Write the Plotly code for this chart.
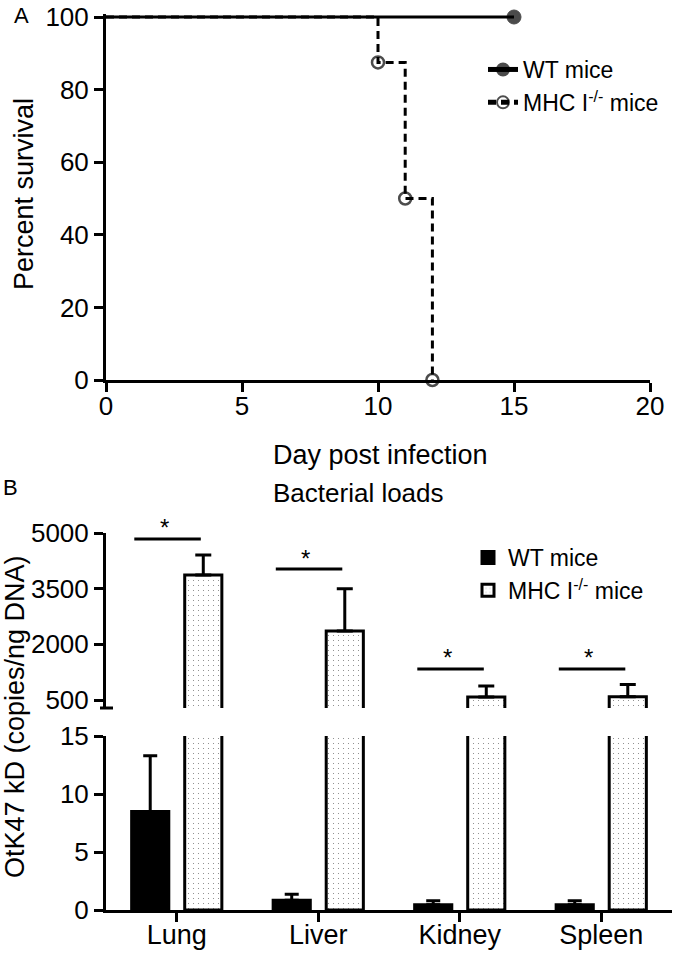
import plotly.graph_objects as go

# ---------------- data ----------------
# Panel A: survival (Kaplan-Meier)
wt_days = [0, 15]
wt_survival = [100, 100]
mhc_days = [0, 10, 11, 12]
mhc_survival = [100, 87.5, 50, 0]
surv_xticks = [0, 5, 10, 15, 20]
surv_yticks = [0, 20, 40, 60, 80, 100]

# Panel B: bacterial loads
organs = ["Lung", "Liver", "Kidney", "Spleen"]
wt_load = [8.5, 0.85, 0.45, 0.45]
wt_err = [4.8, 0.5, 0.35, 0.35]
mhc_load = [3870, 2360, 580, 590]
mhc_err = [540, 1140, 300, 330]
sig_y = [4840, 4030, 1340, 1340]
upper_ticks = [500, 2000, 3500, 5000]
lower_ticks = [0, 5, 10, 15]

W, H = 675, 953
FONT = "Liberation Sans, Arial, sans-serif"


def px(x):
    return x / W


def py(y):
    return 1 - y / H


fig = go.Figure()

# ---- Panel A ----
fig.add_trace(go.Scatter(
    x=mhc_days, y=mhc_survival, mode="lines+markers", line_shape="hv",
    name="MHC I<sup>-/-</sup> mice",
    line=dict(color="black", width=3, dash="8px,5px"),
    marker=dict(symbol="circle-open", size=[0, 12, 12, 12], color="black",
                line=dict(color="black", width=2.5)),
    xaxis="x", yaxis="y", legend="legend", cliponaxis=False, legendrank=2))
fig.add_trace(go.Scatter(
    x=wt_days, y=wt_survival, mode="lines+markers",
    name="WT mice",
    line=dict(color="black", width=3),
    marker=dict(symbol="circle", size=[0, 14], color="black",
                line=dict(color="black", width=1)),
    xaxis="x", yaxis="y", legend="legend", cliponaxis=False, legendrank=1))

# ---- Panel B ----
pattern = dict(shape=".", fgcolor="black", bgcolor="white", size=5, solidity=0.04)
fig.add_trace(go.Bar(
    x=organs, y=wt_load, name="WT mice", offsetgroup="wt",
    marker=dict(color="black", line=dict(color="black", width=3)),
    error_y=dict(type="data", array=wt_err, arrayminus=[0] * 4, symmetric=False,
                 color="black", thickness=3, width=7),
    xaxis="x2", yaxis="y3", legend="legend2", legendrank=1))
fig.add_trace(go.Bar(
    x=organs, y=mhc_load, name="MHC I<sup>-/-</sup> mice", offsetgroup="mhc",
    marker=dict(color="white", pattern=pattern, line=dict(color="black", width=3)),
    xaxis="x2", yaxis="y3", legend="legend2", legendrank=2))
fig.add_trace(go.Bar(
    x=organs, y=[0] * 4, name="WT mice", offsetgroup="wt", showlegend=False,
    marker=dict(color="black"), xaxis="x2", yaxis="y2"))
fig.add_trace(go.Bar(
    x=organs, y=mhc_load, name="MHC I<sup>-/-</sup> mice", offsetgroup="mhc",
    showlegend=False,
    marker=dict(color="white", pattern=pattern, line=dict(color="black", width=3)),
    error_y=dict(type="data", array=mhc_err, arrayminus=[0] * 4, symmetric=False,
                 color="black", thickness=3, width=8),
    xaxis="x2", yaxis="y2"))

axis_common = dict(showline=True, linecolor="black", linewidth=3, ticks="outside",
                   ticklen=9, tickwidth=3, tickcolor="black", showgrid=False,
                   zeroline=False, automargin=False,
                   tickfont=dict(family=FONT, size=26, color="black"))

shapes = []
annotations = []

# significance bars
for i, yv in enumerate(sig_y):
    shapes.append(dict(type="line", xref="x2", yref="y2", x0=i - 0.30, x1=i + 0.17,
                       y0=yv, y1=yv, line=dict(color="black", width=3)))
    annotations.append(dict(xref="x2", yref="y2", x=i - 0.09, y=yv, text="*",
                            showarrow=False, yanchor="middle", yshift=11,
                            font=dict(family=FONT, size=24, color="black")))

# axis break mark on upper segment
shapes.append(dict(type="line", xref="paper", yref="paper", x0=px(100), x1=px(113),
                   y0=py(708), y1=py(708), line=dict(color="black", width=3)))


def txt(text, x, y, size, angle=0):
    annotations.append(dict(xref="paper", yref="paper", x=px(x), y=py(y), text=text,
                            showarrow=False, xanchor="center", yanchor="middle",
                            textangle=angle,
                            font=dict(family=FONT, size=size, color="black")))


txt("A", 22, 15, 22)
txt("B", 10, 488, 22)
txt("Percent survival", 24, 194, 27, -90)
txt("Day post infection", 380, 455, 27)
txt("Bacterial loads", 359, 493, 26)
txt("OtK47 kD (copies/ng DNA)", 15, 717, 27, -90)

fig.update_layout(
    width=W, height=H, margin=dict(l=0, r=0, t=0, b=0),
    paper_bgcolor="white", plot_bgcolor="white",
    font=dict(family=FONT, color="black"),
    barmode="group", bargap=0.25, bargroupgap=0.3,
    xaxis=dict(axis_common, domain=[px(106), px(650)], range=[0, 20],
               tickvals=surv_xticks, anchor="y", ticklabelstandoff=-8),
    yaxis=dict(axis_common, domain=[py(380), py(14.1)], range=[0, 100.8],
               tickvals=surv_yticks, anchor="x"),
    xaxis2=dict(axis_common, domain=[px(106), px(672)], range=[-0.5, 3.5],
                type="category", anchor="y3", ticklabelstandoff=-10,
                tickfont=dict(family=FONT, size=27, color="black")),
    yaxis2=dict(axis_common, domain=[py(708), py(533)], range=[287, 5000],
                tickvals=upper_ticks, anchor="x2"),
    yaxis3=dict(axis_common, domain=[py(910), py(736)], range=[0, 15],
                tickvals=lower_ticks, anchor="x2"),
    legend=dict(x=px(483), y=py(48), xanchor="left", yanchor="top",
                font=dict(family=FONT, size=23, color="black"), itemsizing="constant",
                bgcolor="rgba(0,0,0,0)", tracegroupgap=0),
    legend2=dict(x=px(468), y=py(536), xanchor="left", yanchor="top",
                 font=dict(family=FONT, size=23, color="black"),
                 bgcolor="rgba(0,0,0,0)", tracegroupgap=0),
    shapes=shapes, annotations=annotations, showlegend=True,
)

fig.write_html(
    "out.html",
    config={"displayModeBar": False},
    post_script="document.body.style.margin='0px';document.body.style.overflow='hidden';",
)
